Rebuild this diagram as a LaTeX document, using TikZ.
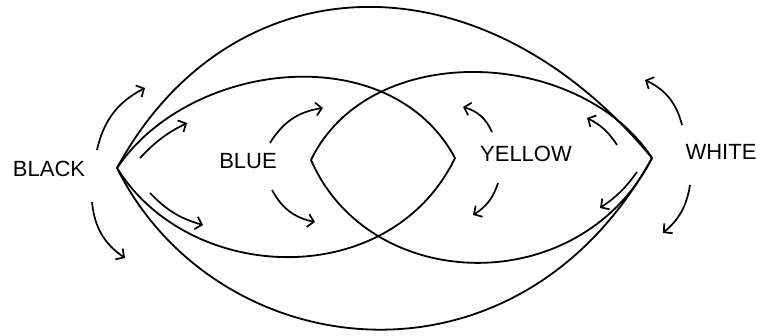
\documentclass[tikz,border=0pt]{standalone}
\usepackage{fontspec}
\setmainfont{Liberation Sans}
\usetikzlibrary{arrows.meta}

\begin{document}
\begin{tikzpicture}[x=1pt,y=-1pt,
  font=\fontsize{22}{24}\selectfont,
  lens/.style={line width=1.8pt,black},
  flow/.style={-{Straight Barb[length=6pt,width=13pt]},line width=1.7pt,black},
  colour/.style={inner sep=1pt}]
\useasboundingbox (0,0) rectangle (760,336);
% tips of the lenses
\coordinate (blacktip) at (117,168);
\coordinate (whitetip) at (652,158);
\coordinate (bluetip) at (311,160);
\coordinate (yellowtip) at (455,158);
% labels
\node[colour] (blk) at (49,169) {BLACK};
\node[colour] (blu) at (248,161) {BLUE};
\node[colour] (yel) at (526,154) {YELLOW};
\node[colour] (wht) at (721,152) {WHITE};
% outer shape
\draw[lens] (blacktip) .. controls (230,-40) and (480,-50) .. (whitetip);
\draw[lens] (blacktip) .. controls (215,365) and (515,405) .. (whitetip);
% left lens
\draw[lens] (blacktip) .. controls (190,60) and (390,37) .. (yellowtip);
\draw[lens] (blacktip) .. controls (190,285) and (390,292) .. (yellowtip);
% right lens
\draw[lens] (whitetip) .. controls (580,48) and (370,38) .. (bluetip);
\draw[lens] (whitetip) .. controls (580,300) and (370,295) .. (bluetip);
% moves
\draw[flow] (97,150) to[bend left=25] (145,88);
\draw[flow] (140,158) to[bend left=10] (187,123);
\draw[flow] (150,193) to[bend right=15] (203,225);
\draw[flow] (92,202) to[bend right=25] (125,258);
\draw[flow] (270,143) to[bend left=25] (323,108);
\draw[flow] (272,190) to[bend right=25] (315,222);
\draw[flow] (492,132) to[bend right=25] (463,107);
\draw[flow] (498,183) to[bend left=20] (473,215);
\draw[flow] (617,145) to[bend right=15] (587,118);
\draw[flow] (682,125) to[bend right=25] (645,80);
\draw[flow] (637,172) to[bend left=10] (600,208);
\draw[flow] (690,185) to[bend left=20] (663,233);
\end{tikzpicture}
\end{document}
